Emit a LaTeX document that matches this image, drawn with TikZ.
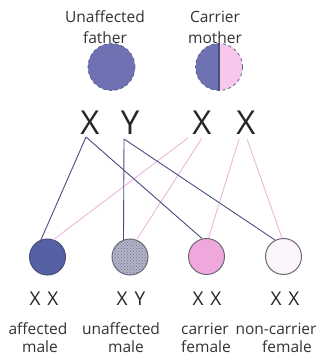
\documentclass[tikz,border=0pt]{standalone}
\usepackage{fontspec}
\setmainfont{Open Sans}
\usetikzlibrary{patterns}
\definecolor{fablue}{HTML}{6E72B2}
\definecolor{afblue}{HTML}{5560A5}
\definecolor{mopink}{HTML}{F8C8EC}
\definecolor{capink}{HTML}{F0A8DC}
\definecolor{ncwhite}{HTML}{FDF5FC}
\definecolor{darkln}{HTML}{4A4E80}
\definecolor{pinkln}{HTML}{EAB8DC}
\definecolor{rimgray}{HTML}{6A6A74}
\definecolor{hatchbg}{HTML}{B4B4C8}
\definecolor{hatchfg}{HTML}{70708A}
\begin{document}
\begin{tikzpicture}[x=1pt,y=-1pt,
  lbl/.style={font=\fontsize{15.5}{17}\selectfont, text=black!80, inner sep=0pt},
  chrom/.style={font=\fontsize{33}{35}\selectfont, text=black!85, inner sep=0pt},
  kid/.style={font=\fontsize{19}{21}\selectfont, text=black!85, inner sep=0pt},
  parent/.style={circle, minimum size=47pt, inner sep=0pt, draw=darkln!90, dashed, line width=0.8pt},
  child/.style={circle, minimum size=36pt, inner sep=0pt, draw=rimgray, line width=1pt},
  dline/.style={draw=darkln, line width=0.9pt},
  pline/.style={draw=pinkln, line width=0.9pt}]
\useasboundingbox (0,0) rectangle (322,358);
% parent labels
\node[lbl] (t1) at (105,17) {Unaffected};
\node[lbl] (t2) at (105,38) {father};
\node[lbl] (t3) at (215,17) {Carrier};
\node[lbl] (t4) at (215,38) {mother};
% parents
\node[parent, fill=fablue] (fa) at (111.5,67) {};
\node[parent, path picture={
  \fill[fablue] (path picture bounding box.north west) rectangle (path picture bounding box.south);
  \fill[mopink] (path picture bounding box.north) rectangle (path picture bounding box.south east);}] (mo) at (219,67) {};
\draw[darkln, line width=1.3pt] (mo.north) -- (mo.south);
% chromosomes
\node[chrom] (x1) at (90,123) {X};
\node[chrom] (y1) at (130,123) {Y};
\node[chrom] (x2) at (202,123) {X};
\node[chrom] (x3) at (246,123) {X};
\coordinate (x1b) at (86,137);
\coordinate (y1b) at (124,139);
\coordinate (x2a) at (188,138);
\coordinate (x2b) at (202,138);
\coordinate (x3a) at (239,139);
\coordinate (x3b) at (247,139);
% children
\node[child, fill=afblue, draw=darkln] (c1) at (47.5,257) {};
\node[child, preaction={fill=hatchbg}, pattern=crosshatch dots, pattern color=hatchfg] (c2) at (130,257) {};
\node[child, fill=capink] (c3) at (206.5,256.5) {};
\node[child, fill=ncwhite] (c4) at (283.5,256.5) {};
% connectors
\coordinate (e1d) at (40,242);
\coordinate (e1p) at (53,240);
\coordinate (e2d) at (123.5,240);
\coordinate (e2p) at (137,239);
\coordinate (e3d) at (202,238.5);
\coordinate (e3p) at (208.5,238);
\coordinate (e4d) at (275,240);
\coordinate (e4p) at (282,238);
\draw[pline] (x2a) -- (e1p);
\draw[pline] (x2b) -- (e2p);
\draw[pline] (x3a) -- (e3p);
\draw[pline] (x3b) -- (e4p);
\draw[dline] (x1b) -- (e1d);
\draw[dline] (x1b) -- (e3d);
\draw[dline] (y1b) -- (e2d);
\draw[dline] (y1b) -- (e4d);
% child genotype
\node[kid] (g1) at (44,299) {X\hspace{7pt}X};
\node[kid] (g2) at (131,299) {X\hspace{7pt}Y};
\node[kid] (g3) at (207,299) {X\hspace{7pt}X};
\node[kid] (g4) at (285,299) {X\hspace{7pt}X};
% child labels
\node[lbl] (l1a) at (38,329) {affected};
\node[lbl] (l1b) at (40,347) {male};
\node[lbl] (l2a) at (121,329) {unaffected};
\node[lbl] (l2b) at (126,347) {male};
\node[lbl] (l3a) at (205,329) {carrier};
\node[lbl] (l3b) at (206,347) {female};
\node[lbl] (l4a) at (276,329) {non-carrier};
\node[lbl] (l4b) at (287,347) {female};
\end{tikzpicture}
\end{document}
